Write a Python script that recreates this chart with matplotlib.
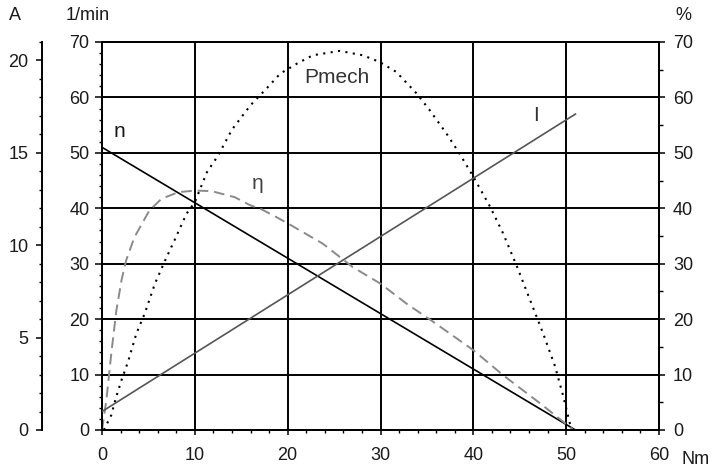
import matplotlib
matplotlib.use("Agg")
import matplotlib.pyplot as plt
from matplotlib.ticker import MultipleLocator

plt.rcParams['font.family'] = ['Liberation Sans', 'DejaVu Sans']

# ---- data ----
torque_n = [0.0, 51.0]
speed_n = [51.0, 0.0]

torque_I = [0.0, 51.0]
current_I = [1.0, 17.1]

torque_P = [0.2, 1.0, 1.5, 2.1, 2.8, 3.7, 4.6, 5.7, 6.8, 7.8, 9.1, 10.0, 11.3,
            12.5, 14.0, 16.0, 18.0, 19.2, 21.0, 22.7, 25.6, 28.1, 29.9, 31.7,
            33.9, 35.3, 37.1, 38.5, 40.0, 41.8, 43.2, 44.7, 46.1, 47.5, 48.8,
            49.7, 50.4, 50.7]
pmech = [0.0, 2.7, 5.8, 9.0, 12.3, 17.4, 21.0, 26.4, 30.6, 34.2, 39.0, 41.1, 46.5,
         49.5, 54.2, 58.6, 62.1, 64.3, 66.1, 67.6, 68.4, 67.6, 66.4, 64.6,
         60.7, 57.7, 53.5, 49.9, 45.7, 40.3, 35.5, 29.5, 23.5, 17.5, 11.5,
         6.0, 1.2, 0.0]

torque_eta = [0.0, 0.47, 1.0, 1.55, 2.1, 2.6, 3.5, 5.1, 6.4, 8.2, 10.0, 11.8,
              14.3, 15.9, 17.2, 18.8, 20.3, 23.8, 27.0, 30.0, 32.8, 35.7, 40.0,
              43.2, 47.2, 50.8]
eta = [0.0, 5.4, 13.8, 21.6, 27.0, 30.6, 34.8, 39.6, 41.7, 42.9, 43.2, 43.1,
       42.0, 40.6, 39.8, 38.4, 37.0, 33.6, 29.4, 26.4, 22.8, 19.5, 14.4,
       9.9, 4.8, 0.0]

x_ticks = [0, 10, 20, 30, 40, 50, 60]
speed_ticks = [0, 10, 20, 30, 40, 50, 60, 70]
current_ticks = [0, 5, 10, 15, 20]
pct_ticks = [0, 10, 20, 30, 40, 50, 60, 70]

W, H = 712, 470
fig = plt.figure(figsize=(W / 100, H / 100), dpi=100)
L, R, B, T = 102, 659, 430, 42
ax = fig.add_axes([L / W, 1 - B / H, (R - L) / W, (B - T) / H])

txt = '#1a1a1a'
fs = 13
lfs = 15
glw = 1.4

ax.set_xlim(0, 60)
ax.set_ylim(0, 70)
ax.set_xticks(x_ticks)
ax.set_yticks(speed_ticks)
ax.xaxis.set_minor_locator(MultipleLocator(2))
ax.yaxis.set_minor_locator(MultipleLocator(2))
ax.tick_params(axis='y', which='major', direction='out', length=4.7, width=1.1,
               labelsize=fs, labelcolor=txt, pad=4.3)
ax.tick_params(axis='y', which='minor', direction='out', length=2.3, width=1.0)
ax.tick_params(axis='x', which='major', direction='out', length=3.6, width=1.1,
               labelsize=fs, labelcolor=txt, pad=8.5)
ax.tick_params(axis='x', which='minor', direction='out', length=2.2, width=1.0)
ax.grid(True, which='major', color='black', linewidth=glw)
for s in ax.spines.values():
    s.set_linewidth(glw)
ax.set_axisbelow(True)

# right % axis
axp = ax.twinx()
axp.set_ylim(0, 70)
axp.set_yticks(pct_ticks)
axp.yaxis.set_minor_locator(MultipleLocator(5))
axp.tick_params(axis='y', which='major', direction='out', length=4.1, width=1.1,
                labelsize=fs, labelcolor=txt, pad=6)
axp.tick_params(axis='y', which='minor', direction='out', length=2.9, width=1.0)
for s in axp.spines.values():
    s.set_linewidth(glw)

# outer left A axis
axa = ax.twinx()
axa.set_ylim(0, 21)
axa.spines['left'].set_position(('outward', 60 * 0.72))
axa.spines['left'].set_visible(True)
axa.spines['right'].set_visible(False)
axa.spines['top'].set_visible(False)
axa.spines['bottom'].set_visible(False)
axa.spines['left'].set_linewidth(glw)
axa.yaxis.set_ticks_position('left')
axa.yaxis.set_label_position('left')
axa.set_yticks(current_ticks)
axa.yaxis.set_minor_locator(MultipleLocator(1))
axa.tick_params(axis='y', which='major', direction='out', length=4.3, width=1.1,
                labelsize=fs, labelcolor=txt, pad=5.5)
axa.tick_params(axis='y', which='minor', direction='out', length=2.5, width=1.0)

# curves
ax.plot(torque_n, speed_n, color='black', lw=1.2, solid_capstyle='butt')
axp.plot(torque_eta, eta, color='#8a8a8a', lw=1.4, linestyle=(0, (5.5, 3)))
axp.plot(torque_P, pmech, color='black', lw=1.5, linestyle=(0, (1, 2.6)))
axa.plot(torque_I, current_I, color='#555555', lw=1.2)

# curve labels
ax.text(1.9, 53.8, 'n', fontsize=lfs, color=txt, ha='center', va='center')
ax.text(25.3, 63.6, 'Pmech', fontsize=lfs, color='#333333', ha='center', va='center')
ax.text(16.8, 44.5, 'η', fontsize=lfs, color='#444444', ha='center', va='center')
ax.text(46.7, 56.8, 'I', fontsize=lfs, color='#333333', ha='center', va='center')

# axis unit labels
fig.text(15 / W, 1 - 16 / H, 'A', fontsize=fs, color=txt, ha='center', va='center')
fig.text(88 / W, 1 - 16 / H, '1/min', fontsize=fs, color=txt, ha='center', va='center')
fig.text(683 / W, 1 - 16 / H, '%', fontsize=fs, color=txt, ha='center', va='center')
fig.text(696 / W, 1 - 460 / H, 'Nm', fontsize=fs, color=txt, ha='center', va='center')

fig.savefig('out.png', dpi=100)
